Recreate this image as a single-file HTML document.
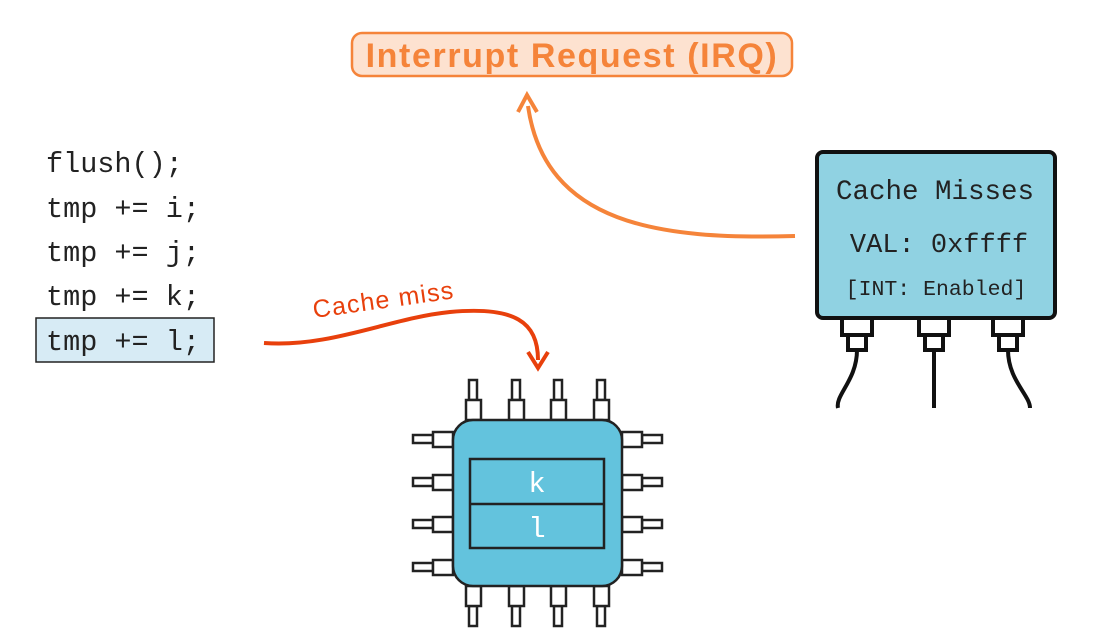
<!DOCTYPE html>
<html><head><style>body{margin:0;background:#fff}svg{display:block}</style></head>
<body>
<svg width="1106" height="642" viewBox="0 0 1106 642" xmlns="http://www.w3.org/2000/svg">
<!-- IRQ -->
<rect x="352" y="33" width="440" height="43" rx="10" fill="#fde2d0" stroke="#f5843a" stroke-width="2.5"/>
<text x="572" y="67" text-anchor="middle" font-family="Liberation Sans, sans-serif" font-weight="bold" font-size="34" letter-spacing="1.6" fill="#f5843a">Interrupt Request (IRQ)</text>
<!-- orange arrow -->
<path d="M795,236 C660,240 545,225 528,106" fill="none" stroke="#f5843a" stroke-width="4"/>
<path d="M518,112 L527,95 L537,112" fill="none" stroke="#f5843a" stroke-width="4" stroke-linejoin="miter"/>
<!-- code -->
<rect x="36" y="318" width="178" height="44" fill="#d7ebf5" stroke="#222" stroke-width="1.5"/>
<g font-family="Liberation Mono, monospace" font-size="28.5" fill="#222">
<text x="46" y="172">flush();</text>
<text x="46" y="217">tmp += i;</text>
<text x="46" y="261">tmp += j;</text>
<text x="46" y="305">tmp += k;</text>
<text x="46" y="350">tmp += l;</text>
</g>
<!-- cache miss arrow -->
<path d="M264,343 C330,348 390,318 450,312 C515,306 538,322 538,360" fill="none" stroke="#e8400c" stroke-width="4"/>
<path d="M528,352 L538,368 L548,352" fill="none" stroke="#e8400c" stroke-width="4"/>
<text x="314" y="318" transform="rotate(-8 314 318)" font-family="Liberation Sans, sans-serif" font-size="25" letter-spacing="1.2" fill="#e8400c">Cache miss</text>
<!-- chip pins -->
<g fill="#fff" stroke="#222" stroke-width="2.5">
<g id="tp">
<rect x="469" y="380" width="8" height="20"/><rect x="466" y="400" width="15" height="20"/>
<rect x="469" y="606" width="8" height="20"/><rect x="466" y="586" width="15" height="20"/>
</g>
<use href="#tp" x="43"/><use href="#tp" x="85"/><use href="#tp" x="128"/>
<g id="lp">
<rect x="413" y="435" width="20" height="8"/><rect x="433" y="432" width="20" height="15"/>
<rect x="642" y="435" width="20" height="8"/><rect x="622" y="432" width="20" height="15"/>
</g>
<use href="#lp" y="43"/><use href="#lp" y="85"/><use href="#lp" y="128"/>
</g>
<rect x="453" y="420" width="169" height="166" rx="20" fill="#63c3dd" stroke="#222" stroke-width="2.5"/>
<rect x="470" y="459" width="134" height="89" fill="none" stroke="#222" stroke-width="2.5"/>
<line x1="470" y1="504" x2="604" y2="504" stroke="#222" stroke-width="2.5"/>
<g font-family="Liberation Mono, monospace" font-size="29" fill="#fff" text-anchor="middle">
<text x="537" y="492">k</text><text x="537" y="537">l</text>
</g>
<!-- device -->
<g fill="#fff" stroke="#111" stroke-width="4">
<path d="M857,350 C857,380 835,395 838,408" fill="none"/>
<line x1="934" y1="350" x2="934" y2="408"/>
<path d="M1008,350 C1008,380 1030,395 1030,408" fill="none"/>
<rect x="842" y="318" width="30" height="17"/><rect x="848" y="335" width="18" height="15"/>
<rect x="919" y="318" width="30" height="17"/><rect x="925" y="335" width="18" height="15"/>
<rect x="993" y="318" width="30" height="17"/><rect x="999" y="335" width="18" height="15"/>
</g>
<rect x="817" y="152" width="238" height="166" rx="6" fill="#90d2e2" stroke="#111" stroke-width="4"/>
<g font-family="Liberation Mono, monospace" fill="#222" text-anchor="middle">
<text x="935" y="199" font-size="27.5">Cache Misses</text>
<text x="939" y="252" font-size="27">VAL: 0xffff</text>
<text x="936" y="295" font-size="21.5">[INT: Enabled]</text>
</g>
</svg>
</body></html>
